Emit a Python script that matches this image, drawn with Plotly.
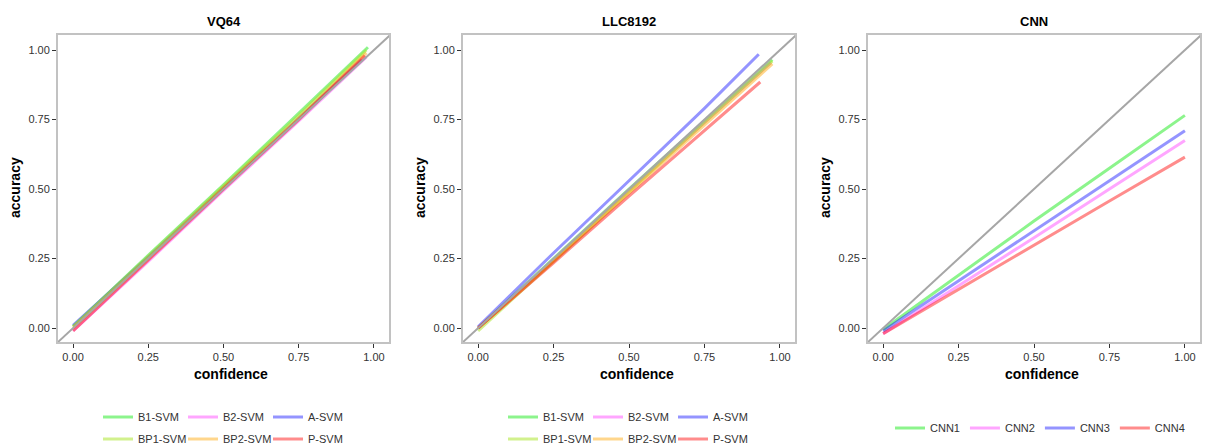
import plotly.graph_objects as go

W, H = 1205, 446

# ---------------- data ----------------
panel_titles = ["VQ64", "LLC8192", "CNN"]
tick_vals = [0.0, 0.25, 0.5, 0.75, 1.0]
tick_text = ["0.00", "0.25", "0.50", "0.75", "1.00"]
diag_x = [-0.1, 1.1]
diag_y = [-0.1, 1.1]

# VQ64 panel
vq_B1_x = [0.0, 0.25, 0.50, 0.75, 0.98]
vq_B1_y = [0.005, 0.262, 0.515, 0.772, 1.010]
vq_B2_x = [0.0, 0.25, 0.50, 0.75, 0.975]
vq_B2_y = [-0.010, 0.240, 0.495, 0.745, 0.975]
vq_A_x = [0.0, 0.25, 0.50, 0.75, 0.96]
vq_A_y = [0.010, 0.255, 0.505, 0.755, 0.965]
vq_BP1_x = [0.0, 0.25, 0.50, 0.75, 0.975]
vq_BP1_y = [0.005, 0.260, 0.512, 0.765, 1.000]
vq_BP2_x = [0.0, 0.25, 0.50, 0.75, 0.975]
vq_BP2_y = [0.000, 0.250, 0.505, 0.755, 0.990]
vq_P_x = [0.0, 0.25, 0.50, 0.75, 0.97]
vq_P_y = [-0.010, 0.245, 0.500, 0.750, 0.980]

# LLC8192 panel
llc_B1_x = [0.0, 0.25, 0.50, 0.75, 0.975]
llc_B1_y = [0.000, 0.250, 0.500, 0.745, 0.965]
llc_B2_x = [0.0, 0.25, 0.50, 0.75, 0.97]
llc_B2_y = [0.000, 0.245, 0.495, 0.740, 0.955]
llc_A_x = [0.0, 0.25, 0.50, 0.75, 0.93]
llc_A_y = [0.005, 0.270, 0.530, 0.790, 0.985]
llc_BP1_x = [0.0, 0.25, 0.50, 0.75, 0.975]
llc_BP1_y = [-0.010, 0.240, 0.490, 0.740, 0.960]
llc_BP2_x = [0.0, 0.25, 0.50, 0.75, 0.975]
llc_BP2_y = [0.000, 0.240, 0.485, 0.730, 0.950]
llc_P_x = [0.0, 0.25, 0.50, 0.75, 0.935]
llc_P_y = [0.000, 0.235, 0.475, 0.710, 0.885]

# CNN panel
cnn_x = [0.0, 0.25, 0.50, 0.75, 1.0]
cnn1_y = [-0.005, 0.190, 0.385, 0.575, 0.765]
cnn2_y = [-0.020, 0.152, 0.325, 0.500, 0.675]
cnn3_y = [-0.010, 0.170, 0.350, 0.530, 0.710]
cnn4_y = [-0.020, 0.140, 0.300, 0.457, 0.615]

# ---------------- styles ----------------
C_GREEN = "rgba(0,230,0,0.45)"
C_PINK = "rgba(255,0,255,0.35)"
C_BLUE = "rgba(0,0,255,0.42)"
C_YG = "rgba(173,230,47,0.55)"
C_ORANGE = "rgba(255,165,0,0.45)"
C_RED = "rgba(255,0,0,0.45)"
C_DIAG = "#A6A6A6"
LW = 3
LW_DIAG = 2

FONT = "Liberation Sans, Arial, sans-serif"

fig = go.Figure()

def add_line(x, y, name, color, axis, legend, show=True, width=LW):
    fig.add_trace(go.Scatter(
        x=x, y=y, mode="lines", name=name,
        line=dict(color=color, width=width),
        xaxis="x" + axis, yaxis="y" + axis,
        legend=legend, showlegend=show))

# panel 1
add_line(vq_B1_x, vq_B1_y, "B1-SVM", C_GREEN, "", "legend")
add_line(vq_B2_x, vq_B2_y, "B2-SVM", C_PINK, "", "legend")
add_line(vq_A_x, vq_A_y, "A-SVM", C_BLUE, "", "legend")
add_line(vq_BP1_x, vq_BP1_y, "BP1-SVM", C_YG, "", "legend2")
add_line(vq_BP2_x, vq_BP2_y, "BP2-SVM", C_ORANGE, "", "legend2")
add_line(vq_P_x, vq_P_y, "P-SVM", C_RED, "", "legend2")
add_line(diag_x, diag_y, "diag", C_DIAG, "", "legend", False, LW_DIAG)

# panel 2
add_line(llc_B1_x, llc_B1_y, "B1-SVM", C_GREEN, "2", "legend3")
add_line(llc_B2_x, llc_B2_y, "B2-SVM", C_PINK, "2", "legend3")
add_line(llc_A_x, llc_A_y, "A-SVM", C_BLUE, "2", "legend3")
add_line(llc_BP1_x, llc_BP1_y, "BP1-SVM", C_YG, "2", "legend4")
add_line(llc_BP2_x, llc_BP2_y, "BP2-SVM", C_ORANGE, "2", "legend4")
add_line(llc_P_x, llc_P_y, "P-SVM", C_RED, "2", "legend4")
add_line(diag_x, diag_y, "diag", C_DIAG, "2", "legend3", False, LW_DIAG)

# panel 3
add_line(cnn_x, cnn1_y, "CNN1", C_GREEN, "3", "legend5")
add_line(cnn_x, cnn2_y, "CNN2", C_PINK, "3", "legend5")
add_line(cnn_x, cnn3_y, "CNN3", C_BLUE, "3", "legend5")
add_line(cnn_x, cnn4_y, "CNN4", C_RED, "3", "legend5")
add_line(diag_x, diag_y, "diag", C_DIAG, "3", "legend5", False, LW_DIAG)

# ---------------- layout ----------------
def px_x(p):
    return p / W

def px_y(p):
    return (H - p) / H

x_domains = [(58, 389), (463, 795), (868, 1200)]
y_dom = [px_y(342), px_y(35)]

axis_common = dict(
    showgrid=False, zeroline=False, showline=True, mirror=True,
    linecolor="#C2C2C2", linewidth=2,
    ticks="outside", ticklen=4, tickwidth=1, tickcolor="#333333",
    tickvals=tick_vals, ticktext=tick_text,
    tickfont=dict(family=FONT, size=11, color="#333333"),
    fixedrange=True,
)

layout = dict(
    width=W, height=H,
    margin=dict(l=0, r=0, t=0, b=0, autoexpand=False),
    paper_bgcolor="white", plot_bgcolor="white",
    font=dict(family=FONT, color="#000000"),
)

annotations = []
for i, (x0, x1) in enumerate(x_domains):
    suf = "" if i == 0 else str(i + 1)
    layout["xaxis" + suf] = dict(axis_common, domain=[px_x(x0), px_x(x1)],
                                 range=[-0.05, 1.05], anchor="y" + suf)
    layout["yaxis" + suf] = dict(axis_common, domain=y_dom,
                                 range=[-0.05, 1.054], anchor="x" + suf)
    cx = px_x((x0 + x1) / 2)
    annotations.append(dict(text="<b>" + panel_titles[i] + "</b>", x=cx, y=px_y(21),
                            xref="paper", yref="paper", showarrow=False,
                            xanchor="center", yanchor="middle",
                            font=dict(family=FONT, size=13, color="#000")))
    annotations.append(dict(text="<b>confidence</b>", x=px_x((x0 + 15 + x1) / 2), y=px_y(374),
                            xref="paper", yref="paper", showarrow=False,
                            xanchor="center", yanchor="middle",
                            font=dict(family=FONT, size=14, color="#000")))
    annotations.append(dict(text="<b>accuracy</b>", x=px_x(x0 - 43), y=px_y(188),
                            xref="paper", yref="paper", showarrow=False, textangle=-90,
                            xanchor="center", yanchor="middle",
                            font=dict(family=FONT, size=14, color="#000")))
layout["annotations"] = annotations

leg_common = dict(orientation="h", xanchor="left", yanchor="middle",
                  font=dict(family=FONT, size=11, color="#333333"),
                  bgcolor="rgba(0,0,0,0)", itemwidth=30,
                  tracegroupgap=0, itemclick=False, itemdoubleclick=False)

layout["legend"] = dict(leg_common, x=px_x(98), y=px_y(417), entrywidth=40)
layout["legend2"] = dict(leg_common, x=px_x(98), y=px_y(439), entrywidth=40)
layout["legend3"] = dict(leg_common, x=px_x(503), y=px_y(417), entrywidth=40)
layout["legend4"] = dict(leg_common, x=px_x(503), y=px_y(439), entrywidth=40)
layout["legend5"] = dict(leg_common, x=px_x(890), y=px_y(428))

fig.update_layout(**layout)
fig.write_html("out.html",
               config={"displayModeBar": False},
               post_script="document.body.style.margin='0';document.body.style.overflow='hidden';")
